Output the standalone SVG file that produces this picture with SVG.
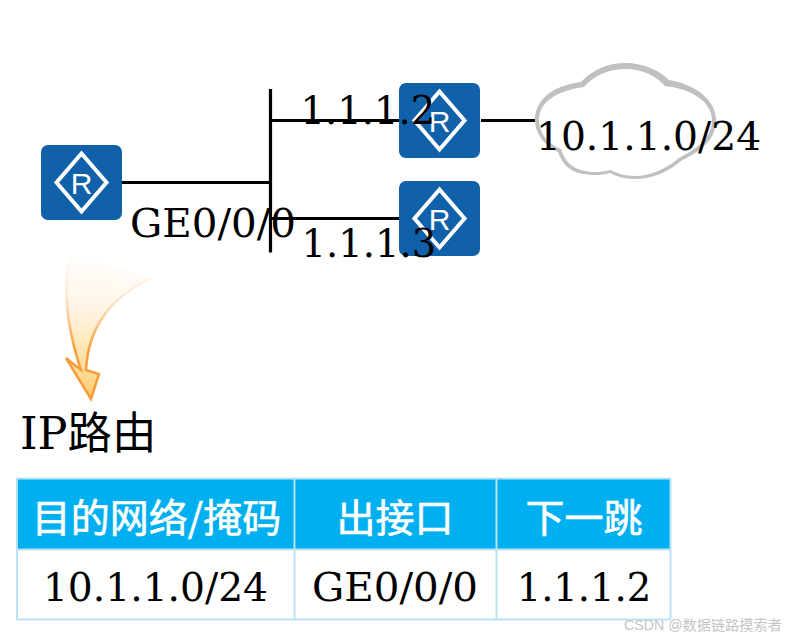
<svg xmlns="http://www.w3.org/2000/svg" width="788" height="638" viewBox="0 0 788 638">
<defs>
<style>
.t{font-family:"DejaVu Serif","Noto Sans CJK SC",serif;font-size:38.5px;fill:#000}
.h{font-family:"Noto Sans CJK SC","DejaVu Sans",sans-serif;font-size:39px;font-weight:400;fill:#fff;stroke:#fff;stroke-width:0.600;text-anchor:middle}
.m{text-anchor:middle}
.c{fill:none;stroke:#000;stroke-width:3.2}
.g{fill:none;stroke:#b9e3f2;stroke-width:2}
.rb{fill:#1160aa}
.rd{fill:none;stroke:#fff;stroke-width:4}
.rt{font-family:"Liberation Sans",Arial,sans-serif;font-size:30px;fill:#fff;text-anchor:middle}
</style>
<linearGradient id="ag" gradientUnits="userSpaceOnUse" x1="105" y1="258" x2="90" y2="399">
<stop offset="0" stop-color="#ffd9a0" stop-opacity="0"/>
<stop offset="0.3" stop-color="#ffe4c0" stop-opacity="0.3"/>
<stop offset="0.65" stop-color="#ffdf9f" stop-opacity="0.8"/>
<stop offset="1" stop-color="#ffcb6c"/>
</linearGradient>
<linearGradient id="as" gradientUnits="userSpaceOnUse" x1="105" y1="258" x2="90" y2="399">
<stop offset="0" stop-color="#f79a3a" stop-opacity="0"/>
<stop offset="0.3" stop-color="#f79a3a" stop-opacity="0.2"/>
<stop offset="0.65" stop-color="#f79a3a" stop-opacity="0.95"/>
<stop offset="1" stop-color="#f79a3a"/>
</linearGradient>
<g id="router">
<rect class="rb" x="0" y="0" width="81" height="75" rx="7"/>
<path class="rd" d="M40.500 8.500L65.500 37.500L40.500 66.500L15.500 37.500Z"/>
<text class="rt" x="40.500" y="48.500">R</text>
</g>
</defs>
<rect width="788" height="638" fill="#fff"/>
<g id="connectors">
<path class="c" d="M270.500 89V252.500M122 182.500H270M270 120.500H400M270 218.500H400M481 120.500H536"/>
</g>
<g id="router-left"><use href="#router" x="41" y="145"/></g>
<g id="router-top"><use href="#router" x="399" y="83"/></g>
<g id="router-bottom"><use href="#router" x="399" y="181"/></g>
<g id="cloud">
<path d="M535 122C534 100 552 86 581 82C592 70 608 63 625 63C645 63 660 71 669 80C695 84 716 100 716 120C716 135 708 148 681 161C668 172 652 179 635 179C624 179 616 176 610 173C600 176 590 175 583 174C570 172 562 164 558 152C545 146 536 135 535 122Z" fill="#c0c0c0"/>
<path d="M539 122C538 103 555 91 584 87C594 75 610 69 625 69C643 69 656 76 665 86C692 89 712 102 712 120C712 134 704 145 679 158C666 169 650 176 635 176C625 176 617 173 610 170C600 173 590 172 585 171C573 169 565 162 561 149C548 144 540 134 539 122Z" fill="#fff"/>
</g>
<g id="arrow">
<path d="M70 253C63 285 66 325 81 370L66 358L91 399L99 374L86 370C88 330 108 298 152 278" fill="url(#ag)" stroke="none"/>
<path d="M70 253C63 285 66 325 81 370L66 358L91 399L99 374L86 370C88 330 108 298 152 278" fill="none" stroke="url(#as)" stroke-width="2.500"/>
</g>
<g id="labels">
<text class="t" x="130" y="237" textLength="166" lengthAdjust="spacingAndGlyphs">GE0/0/0</text>
<text class="t" x="300.500" y="124">1.1.1.2</text>
<text class="t" x="301.500" y="257">1.1.1.3</text>
<text class="t" x="536" y="150" style="font-size:39.2px">10.1.1.0/24</text>
<text class="t" x="20" y="449" style="font-size:44.500px">IP路由</text>
</g>
<g id="table">
<rect x="17" y="479" width="654" height="70" fill="#00aff0"/>
<path class="g" d="M17 478.500H671M17 549.500H671M17 619.500H671M17 478V620M294.500 478V620M496.500 478V620M670.500 478V620"/>
<text class="h" x="156.500" y="532">目的网络/掩码</text>
<text class="h" x="395" y="532">出接口</text>
<text class="h" x="584" y="532">下一跳</text>
<text class="t m" x="155.500" y="601" style="font-size:39.2px">10.1.1.0/24</text>
<text class="t" x="312" y="601" textLength="166" lengthAdjust="spacingAndGlyphs">GE0/0/0</text>
<text class="t m" x="584" y="601">1.1.1.2</text>
</g>
<g id="watermark">
<text x="624" y="630" font-family="'Liberation Sans','Noto Sans CJK SC',sans-serif" font-size="14.200" fill="#c4c4c4">CSDN @数据链路摸索者</text>
</g>
</svg>
